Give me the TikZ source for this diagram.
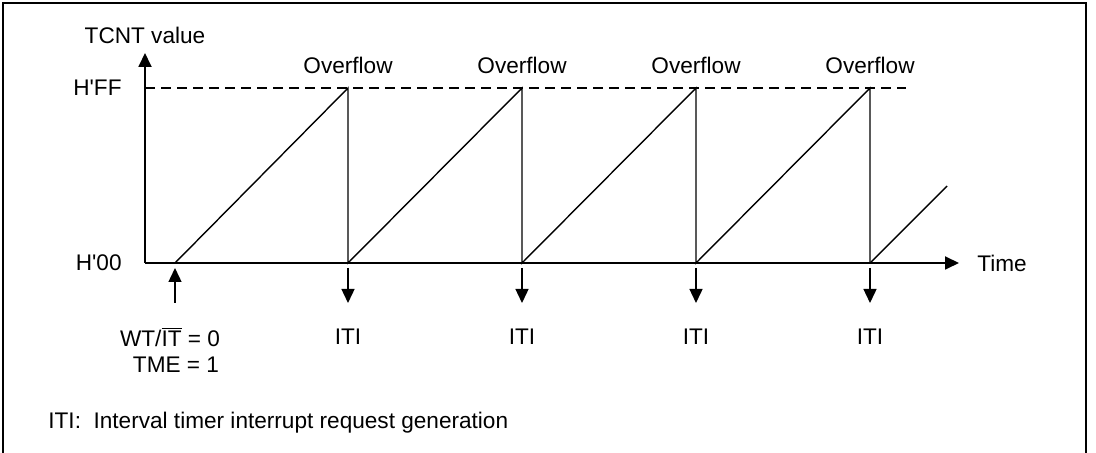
\documentclass[tikz,border=0pt]{standalone}
\usepackage{fontspec}
\newfontfamily\arialfont{Liberation Sans}
\usetikzlibrary{arrows.meta}
\begin{document}
\begin{tikzpicture}[x=0.5pt,y=-0.5pt, font=\arialfont\fontsize{11.3}{13}\selectfont,
  axis/.style={line width=0.9pt},
  ramp/.style={line width=0.7pt},
  tipped/.style={-{Triangle[length=7pt,width=6.5pt]}},
  lbl/.style={inner sep=0pt},
  hff/.style={line width=0.7pt, dash pattern=on 5pt off 3pt}]
\useasboundingbox (0,0) rectangle (1096,453);
\draw[line width=0.8pt] (3,453) -- (3,3) -- (1086,3) -- (1086,453);
% axes
\coordinate (O) at (145,263);
\coordinate (Ytop) at (145,53);
\coordinate (Xend) at (959,263);
\draw[axis,tipped] (O) -- (Ytop);
\draw[axis,tipped] (O) -- (Xend);
\node[lbl] (ylab) at (145,35) {TCNT value};
\node[lbl,anchor=west] (tlab) at (977,263) {Time};
\node[lbl,anchor=east] (hff) at (122,88) {H'FF};
\node[lbl,anchor=east] (h00) at (122,263) {H'00};
% dashed max line
\coordinate (D0) at (145,88);
\coordinate (D1) at (906,88);
\draw[hff] (D0) -- (D1);
% sawtooth
\coordinate (S) at (175,263);
\foreach \i/\x in {1/348,2/522,3/696,4/870}{
  \coordinate (P\i) at (\x,88);
  \coordinate (B\i) at (\x,263);
  \coordinate (A\i) at (\x,268);
  \coordinate (C\i) at (\x,303);
  \node[lbl] (ov\i) at (\x,65) {Overflow};
  \node[lbl] (iti\i) at (\x,337) {ITI};
}
\draw[ramp] (S) -- (P1) -- (B1) -- (P2) -- (B2) -- (P3) -- (B3) -- (P4) -- (B4);
\coordinate (E) at (947,186);
\draw[ramp] (B4) -- (E);
% ITI arrows
\foreach \i in {1,2,3,4}{
  \draw[ramp,tipped] (A\i) -- (C\i);
}
% start arrow
\coordinate (Su) at (175,268);
\coordinate (Sd) at (175,303);
\draw[ramp,tipped] (Sd) -- (Su);
\node[lbl] (wt) at (170,337) {WT/\ensuremath{\overline{\hbox{IT}}} = 0};
\node[lbl] (tme) at (176,365) {TME = 1};
\node[lbl,anchor=west] (note) at (48,423) {ITI:\ \ Interval timer interrupt request generation};
\end{tikzpicture}
\end{document}
